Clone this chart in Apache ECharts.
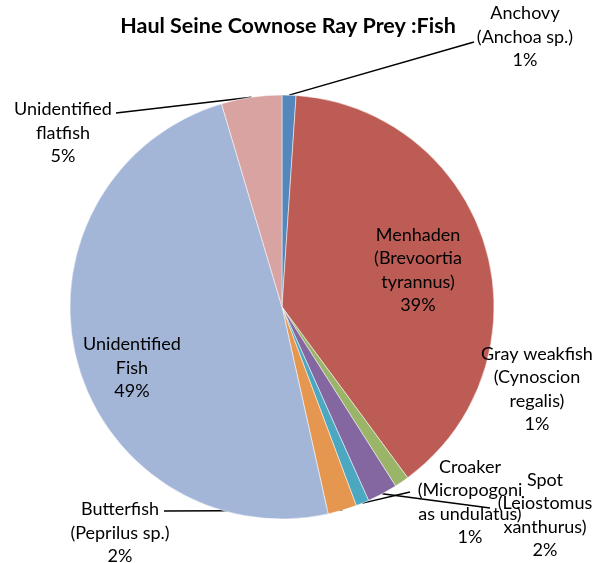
<!DOCTYPE html>
<html>
<head>
<meta charset="utf-8">
<script src="https://cdn.jsdelivr.net/npm/echarts@6/dist/echarts.min.js"></script>
<style>
  html, body { margin: 0; padding: 0; background: #fff; }
  #main { width: 596px; height: 563px; }
</style>
</head>
<body>
<div id="main"></div>
<script>
// 数据
var names = ['Anchovy', 'Menhaden', 'Gray weakfish', 'Spot', 'Croaker', 'Butterfish', 'Unidentified Fish', 'Unidentified flatfish'];
var labelNames = [
  'Anchovy\n(Anchoa sp.)',
  'Menhaden\n(Brevoortia\ntyrannus)',
  'Gray weakfish\n(Cynoscion\nregalis)',
  'Spot\n(Leiostomus\nxanthurus)',
  'Croaker\n(Micropogoni\nas undulatus)',
  'Butterfish\n(Peprilus sp.)',
  'Unidentified\nFish',
  'Unidentified\nflatfish'
];
var values = [1.06, 38.8, 1.1, 2.3, 1.0, 2.2, 48.84, 4.6];
var colors = ['#5587BD', '#BC5C54', '#9BB568', '#8467A0', '#4CA8C0', '#E5974F', '#A4B6D7', '#D9A3A1'];

var myChart = echarts.init(document.getElementById('main'));

var cx = 282, cy = 307, r = 212;
var font = 'Lato, "Liberation Sans", sans-serif';

// 标签位置 (布局)
var labelPos = [
  { x: 525, y: 37, line: [474, 42] },
  { x: 418, y: 270 },
  { x: 537, y: 389 },
  { x: 545, y: 515, line: [490, 508] },
  { x: 470, y: 502, line: [410, 492] },
  { x: 120, y: 533, line: [164, 511] },
  { x: 132, y: 368 },
  { x: 63, y: 133, line: [116, 113] }
];

var total = values.reduce(function (a, b) { return a + b; }, 0);
function midPoint(i) {
  var acc = 0;
  for (var k = 0; k < i; k++) acc += values[k];
  var ang = (acc + values[i] / 2) / total * 2 * Math.PI;
  return [cx + r * Math.sin(ang), cy - r * Math.cos(ang)];
}

var data = names.map(function (n, i) {
  var item = { name: n, value: values[i], itemStyle: { color: colors[i] } };
  if (i === 1 || i === 6) {
    item.label = { position: 'inside' };
    item.labelLine = { show: false };
  }
  if (i === 2) {
    item.labelLine = { show: false };
  }
  return item;
});

option = {
  backgroundColor: '#fff',
  animation: false,
  title: {
    text: 'Haul Seine Cownose Ray Prey :Fish',
    left: 283,
    top: 10,
    textAlign: 'center',
    textStyle: { fontFamily: font, fontSize: 21.5, fontWeight: 'bold', color: '#000' }
  },
  series: [{
    type: 'pie',
    center: [cx, cy],
    radius: r,
    startAngle: 90,
    clockwise: true,
    avoidLabelOverlap: false,
    itemStyle: { borderColor: '#fff', borderWidth: 0.5 },
    label: {
      show: true,
      position: 'outside',
      fontFamily: font,
      fontSize: 18,
      lineHeight: 23.5,
      color: '#000',
      align: 'center',
      formatter: function (p) {
        return labelNames[p.dataIndex] + '\n' + Math.round(p.percent) + '%';
      }
    },
    labelLine: {
      show: true,
      lineStyle: { color: '#000', width: 1.5 }
    },
    labelLayout: function (params) {
      var i = params.dataIndex;
      var lp = labelPos[i];
      var res = { x: lp.x, y: lp.y, align: 'center', verticalAlign: 'middle' };
      if (lp.line) {
        var s = midPoint(i);
        res.labelLinePoints = [s, lp.line, lp.line];
      }
      return res;
    },
    emphasis: { disabled: true },
    data: data
  }]
};

myChart.setOption(option);
</script>
</body>
</html>
